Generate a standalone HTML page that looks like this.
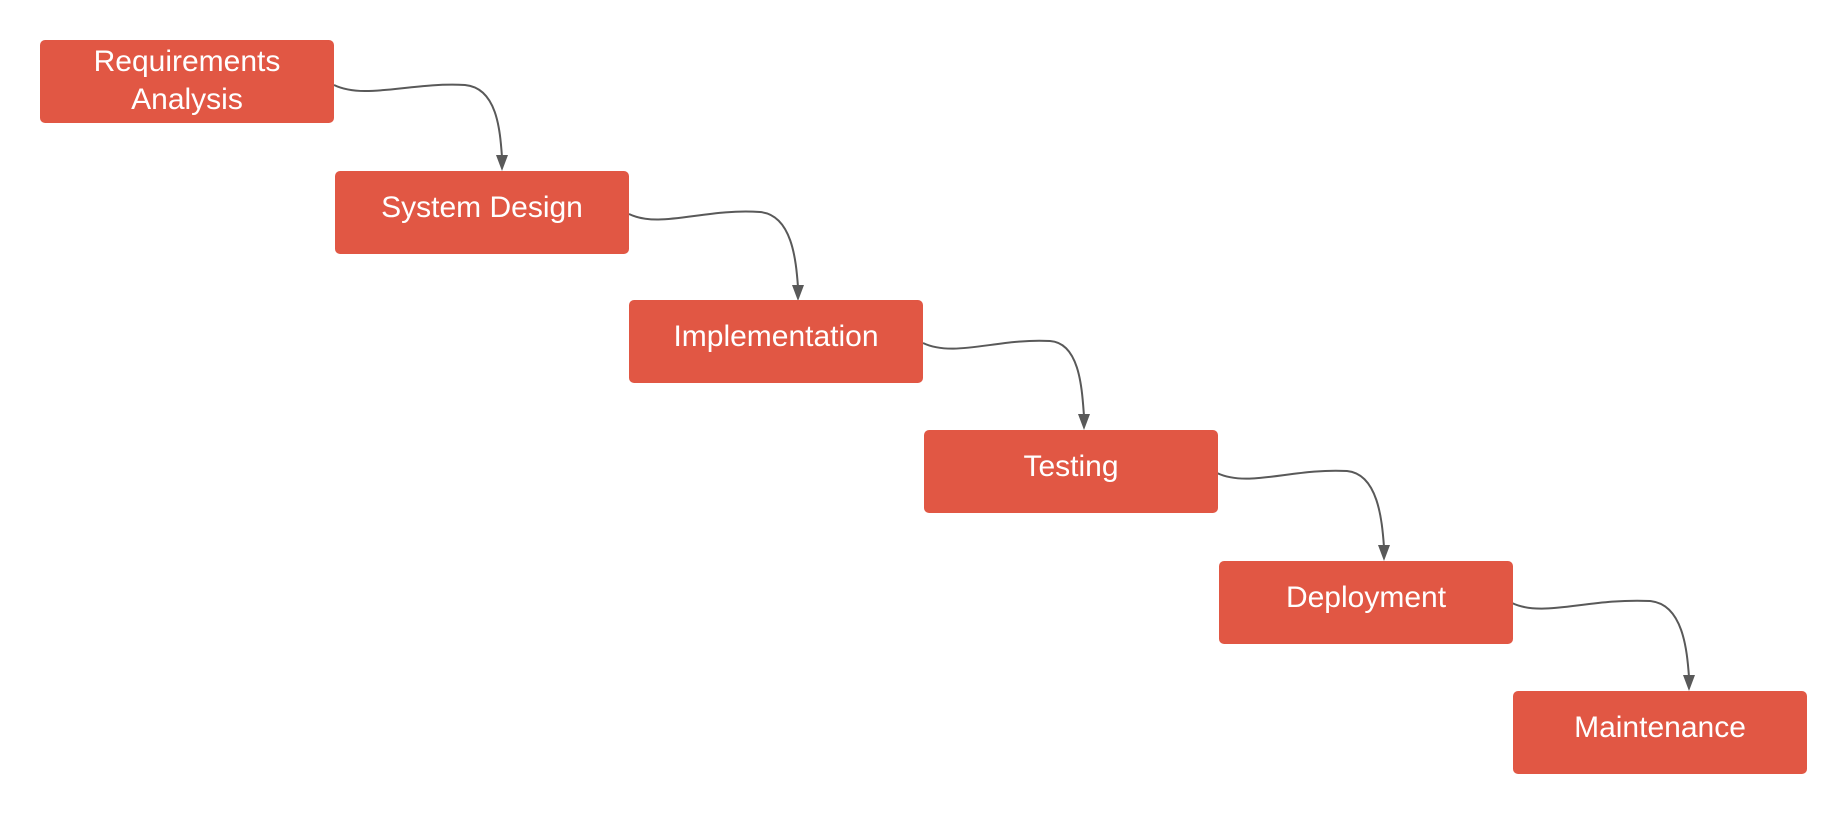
<!DOCTYPE html>
<html><head><style>
html,body{margin:0;padding:0;background:#fff;}
body{width:1848px;height:814px;position:relative;overflow:hidden;font-family:"Liberation Sans",sans-serif;}
.b{position:absolute;width:294px;height:83px;background:#e15744;border-radius:5px;color:#fff;font-size:30px;display:flex;align-items:flex-start;justify-content:center;text-align:center;line-height:38px;box-sizing:border-box;padding-top:18px;}
svg{position:absolute;left:0;top:0;}
</style></head><body>
<svg width="1848" height="814">
<g fill="none" stroke="#595959" stroke-width="2">
<path d="M334,85 C365,100 410,82 465,85 C497,88 500,130 502,157"/>
<path d="M629,214 C660,229 705,208 760,212 C792,215 796,260 798,287"/>
<path d="M923,343 C954,358 999,338 1050,341 C1080,343 1082,390 1084,416"/>
<path d="M1217,473 C1248,488 1293,468 1347,471 C1378,474 1382,520 1384,547"/>
<path d="M1512,603 C1543,618 1588,598 1650,601 C1683,604 1687,650 1689,677"/>
</g>
<g fill="#595959">
<path d="M496,155 L508,155 L502,171 Z"/>
<path d="M792,285 L804,285 L798,301 Z"/>
<path d="M1078,414 L1090,414 L1084,430 Z"/>
<path d="M1378,545 L1390,545 L1384,561 Z"/>
<path d="M1683,675 L1695,675 L1689,691 Z"/>
</g>
</svg>
<div class="b" style="left:40px;top:40px;padding-top:3px;">Requirements<br>Analysis</div>
<div class="b" style="left:335px;top:171px;">System Design</div>
<div class="b" style="left:629px;top:300px;">Implementation</div>
<div class="b" style="left:924px;top:430px;">Testing</div>
<div class="b" style="left:1219px;top:561px;">Deployment</div>
<div class="b" style="left:1513px;top:691px;">Maintenance</div>
</body></html>
